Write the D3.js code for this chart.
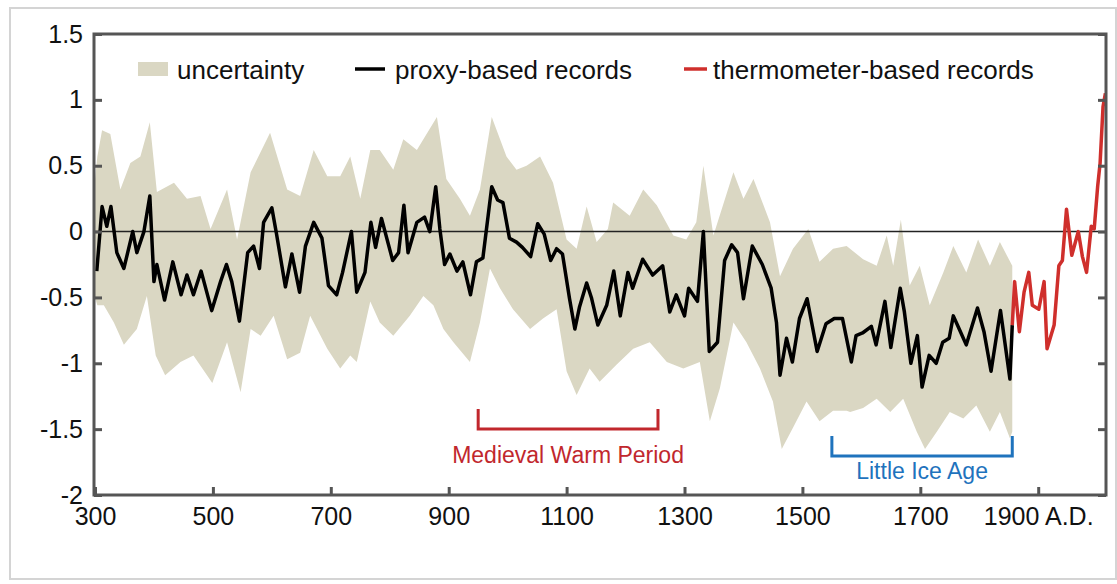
<!DOCTYPE html>
<html><head><meta charset="utf-8">
<script src="https://cdn.jsdelivr.net/npm/d3@7"></script>
<style>body{margin:0;background:#fff}text{font-family:"Liberation Sans",Arial,sans-serif}</style>
</head><body><div id="io"></div>
<script>
// proxy-based reconstruction (black)
const proxyYears = [303,312,320,327,337,349,364,371,383,393,400,405,418,432,446,456,467,480,498,513,523,532,545,559,569,579,586,600,608,623,634,647,657,671,685,696,710,720,735,744,758,768,776,786,805,815,824,831,846,859,868,878,885,893,902,914,924,937,947,958,973,983,992,1003,1015,1025,1039,1051,1062,1073,1083,1093,1105,1114,1122,1134,1142,1153,1168,1180,1191,1204,1212,1229,1246,1263,1275,1286,1300,1307,1322,1332,1342,1356,1368,1380,1390,1400,1415,1432,1447,1456,1462,1473,1483,1495,1508,1525,1540,1554,1568,1583,1591,1602,1617,1625,1640,1650,1666,1673,1684,1695,1703,1715,1727,1738,1749,1756,1766,1778,1797,1808,1820,1836,1852,1856];
const proxyValues = [-0.30,0.19,0.04,0.19,-0.16,-0.28,0.0,-0.16,0.0,0.27,-0.38,-0.25,-0.52,-0.23,-0.48,-0.33,-0.48,-0.30,-0.60,-0.38,-0.25,-0.38,-0.68,-0.16,-0.11,-0.28,0.07,0.18,-0.02,-0.42,-0.17,-0.46,-0.11,0.07,-0.05,-0.41,-0.48,-0.31,0.0,-0.46,-0.31,0.07,-0.12,0.10,-0.22,-0.16,0.20,-0.16,0.07,0.11,0.0,0.34,0.02,-0.25,-0.17,-0.30,-0.23,-0.48,-0.23,-0.20,0.34,0.24,0.22,-0.05,-0.08,-0.12,-0.19,0.06,-0.02,-0.22,-0.13,-0.17,-0.51,-0.74,-0.57,-0.39,-0.50,-0.71,-0.56,-0.30,-0.64,-0.31,-0.43,-0.21,-0.33,-0.26,-0.61,-0.48,-0.64,-0.43,-0.53,0.0,-0.91,-0.84,-0.22,-0.10,-0.16,-0.51,-0.11,-0.25,-0.43,-0.69,-1.09,-0.81,-0.99,-0.66,-0.51,-0.91,-0.70,-0.66,-0.66,-0.99,-0.79,-0.77,-0.72,-0.86,-0.53,-0.88,-0.43,-0.61,-1.0,-0.79,-1.18,-0.94,-1.0,-0.84,-0.81,-0.64,-0.74,-0.86,-0.58,-0.76,-1.06,-0.60,-1.12,-0.71];

// thermometer-based records (red)
const thermoYears = [1856,1860,1868,1876,1884,1890,1901,1910,1915,1927,1935,1941,1948,1957,1968,1975,1982,1990,1995,2001,2005,2010,2014];
const thermoValues = [-0.71,-0.38,-0.76,-0.46,-0.31,-0.56,-0.59,-0.38,-0.89,-0.71,-0.26,-0.22,0.17,-0.18,0.0,-0.19,-0.31,0.04,0.02,0.35,0.52,0.95,1.05];

// uncertainty envelope
const upperYears = [300,304,312,326,343,360,377,393,405,434,456,479,496,524,541,564,597,626,648,671,694,716,733,750,767,783,806,823,846,880,896,919,936,953,973,998,1015,1032,1055,1077,1100,1117,1134,1151,1170,1179,1207,1230,1253,1281,1303,1320,1332,1349,1383,1400,1417,1445,1462,1484,1510,1529,1552,1575,1603,1626,1643,1654,1667,1682,1699,1716,1739,1756,1778,1798,1818,1835,1856];
const upperValues = [0.4,0.57,0.77,0.74,0.32,0.52,0.57,0.83,0.30,0.37,0.25,0.27,0.02,0.32,-0.06,0.45,0.75,0.32,0.27,0.62,0.42,0.42,0.57,0.25,0.62,0.62,0.47,0.70,0.62,0.87,0.40,0.25,0.12,0.32,0.87,0.57,0.47,0.50,0.57,0.37,-0.06,-0.13,0.19,-0.08,0.02,0.22,0.12,0.32,0.20,-0.03,-0.06,0.07,0.50,-0.03,0.45,0.25,0.40,0.07,-0.34,-0.13,0.02,-0.23,-0.13,-0.11,-0.21,-0.26,-0.03,-0.26,0.09,-0.41,-0.26,-0.56,-0.31,-0.11,-0.31,-0.06,-0.26,-0.08,-0.26];
const lowerYears = [300,304,315,332,349,371,388,403,419,445,467,499,524,547,564,581,603,626,648,665,694,716,733,744,767,783,806,834,857,874,891,908,936,953,970,987,1009,1038,1060,1083,1100,1117,1139,1156,1185,1213,1241,1270,1298,1326,1343,1360,1383,1405,1428,1450,1465,1484,1507,1529,1552,1575,1581,1603,1626,1649,1671,1694,1708,1728,1750,1773,1795,1818,1835,1852,1856];
const lowerValues = [-0.5,-0.56,-0.56,-0.69,-0.86,-0.74,-0.49,-0.94,-1.09,-0.99,-0.94,-1.15,-0.84,-1.22,-0.74,-0.79,-0.64,-0.97,-0.92,-0.64,-0.89,-1.04,-0.94,-0.99,-0.53,-0.69,-0.79,-0.64,-0.49,-0.56,-0.74,-0.84,-0.99,-0.69,-0.28,-0.43,-0.59,-0.74,-0.66,-0.59,-1.06,-1.24,-1.04,-1.14,-1.01,-0.89,-0.84,-0.99,-1.04,-0.99,-1.44,-1.19,-0.69,-0.84,-1.04,-1.29,-1.65,-1.49,-1.29,-1.44,-1.36,-1.36,-1.37,-1.34,-1.27,-1.37,-1.27,-1.52,-1.65,-1.52,-1.37,-1.42,-1.32,-1.52,-1.37,-1.57,-1.52];

const xTicks = [300,500,700,900,1100,1300,1500,1700,1900];
const yTicks = [-2,-1.5,-1,-0.5,0,0.5,1,1.5];

const W = 1117, H = 584;
const svg = d3.select('#io').append('svg').attr('width', W).attr('height', H);

svg.append('rect').attr('x', 10).attr('y', 8).attr('width', 1106).attr('height', 571)
  .attr('fill', 'none').attr('stroke', '#d4d4d4').attr('stroke-width', 2);

const x = d3.scaleLinear().domain([300, 2015]).range([95, 1106]);
const y = d3.scaleLinear().domain([-2, 1.5]).range([495, 34]);

const band = upperYears.map((d, i) => [d, upperValues[i]])
  .concat(lowerYears.map((d, i) => [d, lowerValues[i]]).reverse());
svg.append('path')
  .attr('d', d3.line().x(d => x(d[0])).y(d => y(d[1]))(band) + 'Z')
  .attr('fill', '#dad7c3');

svg.append('line').attr('x1', x(300)).attr('x2', 1106).attr('y1', y(0)).attr('y2', y(0))
  .attr('stroke', '#222').attr('stroke-width', 1.5);

const line = d3.line().x(d => x(d[0])).y(d => y(d[1]));
svg.append('path').datum(proxyYears.map((d, i) => [d, proxyValues[i]]))
  .attr('d', line).attr('fill', 'none').attr('stroke', '#000').attr('stroke-width', 3.5)
  .attr('stroke-linejoin', 'round');
svg.append('path').datum(thermoYears.map((d, i) => [d, thermoValues[i]]))
  .attr('d', line).attr('fill', 'none').attr('stroke', '#cf2f2c').attr('stroke-width', 3.5)
  .attr('stroke-linejoin', 'round');

// frame
svg.append('rect').attr('x', 94).attr('y', 34).attr('width', 1012).attr('height', 461)
  .attr('fill', 'none').attr('stroke', '#555').attr('stroke-width', 3);

const gx = svg.append('g').attr('transform', 'translate(0,495)')
  .call(d3.axisBottom(x).tickValues(xTicks).tickSizeInner(-8).tickSizeOuter(0)
    .tickFormat(d => d === 1900 ? '1900 A.D.' : d));
const gy = svg.append('g').attr('transform', 'translate(94,0)')
  .call(d3.axisLeft(y).tickValues(yTicks).tickSizeInner(-8).tickSizeOuter(0)
    .tickFormat(d => d));
const gr = svg.append('g').attr('transform', 'translate(1106,0)')
  .call(d3.axisRight(y).tickValues(yTicks).tickSizeInner(-8).tickSizeOuter(0).tickFormat(''));
[gx, gy, gr].forEach(g => {
  g.select('.domain').remove();
  g.selectAll('.tick line').attr('stroke', '#555').attr('stroke-width', 3);
  g.selectAll('text').attr('fill', '#111').style('font-size', '25px')
    .style('font-family', '"Liberation Sans",Arial,sans-serif');
});
gx.selectAll('text').attr('dy', '0.71em').attr('y', 12);
gy.selectAll('text').attr('x', -11);

// legend
const lg = svg.append('g').style('font-size', '26px');
lg.append('rect').attr('x', 138).attr('y', 62).attr('width', 30).attr('height', 14).attr('fill', '#dad7c3');
lg.append('text').attr('x', 177).attr('y', 79).text('uncertainty').attr('fill', '#111');
lg.append('line').attr('x1', 355).attr('x2', 385).attr('y1', 69).attr('y2', 69).attr('stroke', '#000').attr('stroke-width', 3.5);
lg.append('text').attr('x', 395).attr('y', 79).text('proxy-based records').attr('fill', '#111');
lg.append('line').attr('x1', 684).attr('x2', 707).attr('y1', 69).attr('y2', 69).attr('stroke', '#cf2f2c').attr('stroke-width', 3.5);
lg.append('text').attr('x', 713).attr('y', 79).text('thermometer-based records').attr('fill', '#111');

// period annotations
function bracket(y0, y1, top, color, label, ly) {
  svg.append('path')
    .attr('d', `M${x(y0)},${top}V${top + 20}H${x(y1)}V${top}`)
    .attr('fill', 'none').attr('stroke', color).attr('stroke-width', 3);
  svg.append('text').attr('x', (x(y0) + x(y1)) / 2).attr('y', ly)
    .attr('text-anchor', 'middle').attr('fill', color).style('font-size', '23px').text(label);
}
bracket(950, 1255, 409, '#c1272d', 'Medieval Warm Period', 463);
bracket(1550, 1856, 436, '#1f73bd', 'Little Ice Age', 479);
</script>
</body></html>
